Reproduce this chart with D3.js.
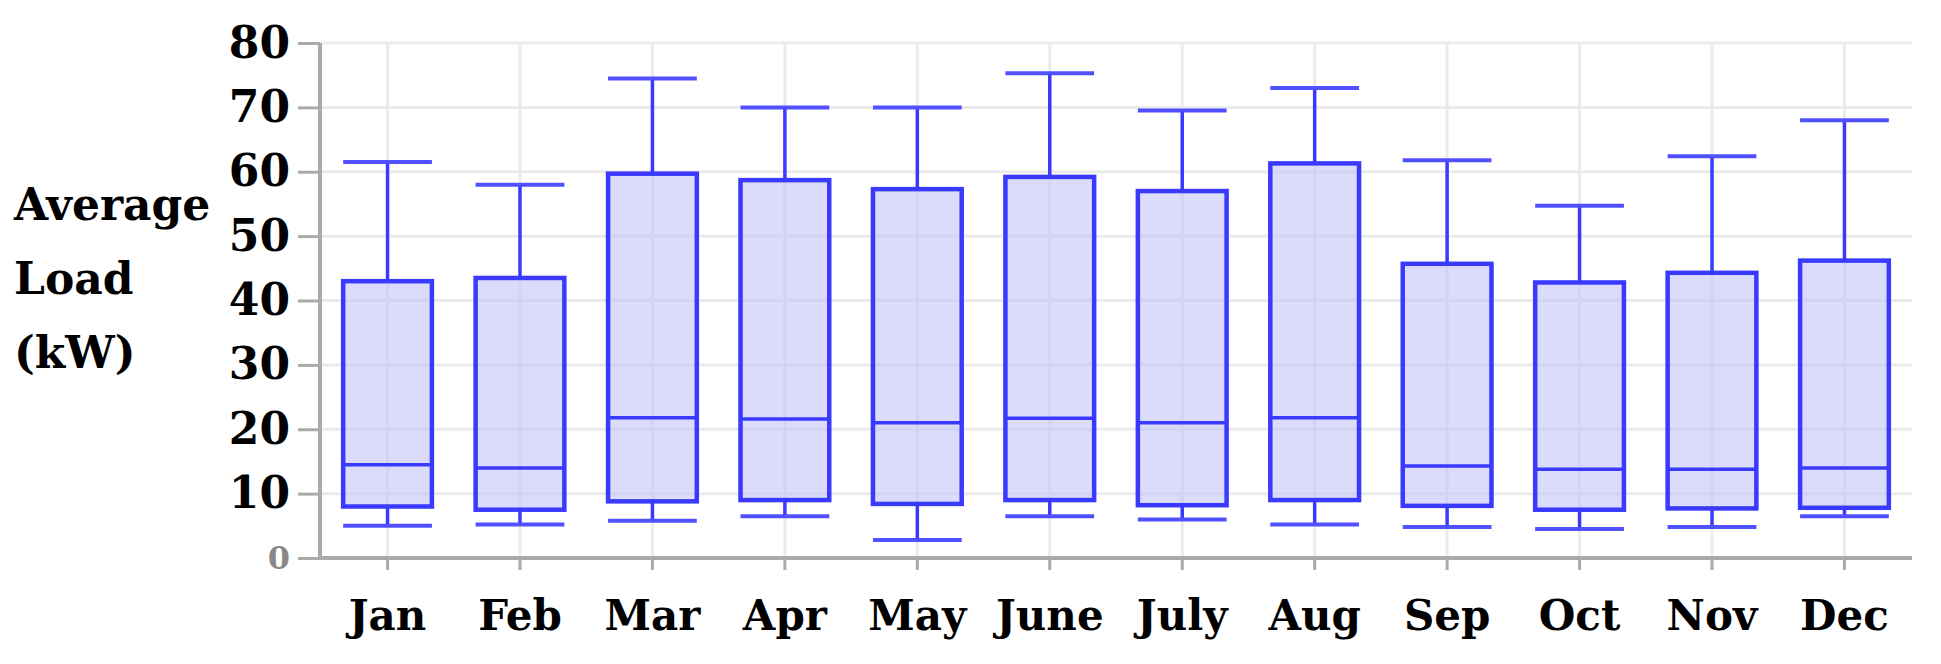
<!DOCTYPE html>
<html><head><meta charset="utf-8">
<script src="https://cdn.jsdelivr.net/npm/d3@7"></script>
<style>body{margin:0;background:#fff}</style></head>
<body><svg id="c" width="1941" height="664"></svg>
<script>
const months = ["Jan","Feb","Mar","Apr","May","June","July","Aug","Sep","Oct","Nov","Dec"];
const minV = [5,5.2,5.8,6.5,2.8,6.5,6,5.2,4.8,4.5,4.8,6.5];
const q1V  = [8,7.5,8.8,9,8.4,9,8.2,9,8.1,7.5,7.7,7.8];
const medV = [14.5,14,21.8,21.6,21,21.7,21,21.8,14.3,13.8,13.8,14];
const q3V  = [43,43.5,59.7,58.7,57.3,59.2,57,61.3,45.7,42.8,44.3,46.2];
const maxV = [61.5,58,74.5,70,70,75.3,69.5,73,61.8,54.7,62.4,68];
const yTicks = [0,10,20,30,40,50,60,70,80];

const svg = d3.select("#c");
const L=320, R=1912, T=43, B=558;
const x = d3.scaleBand().domain(months).range([L, R]).paddingInner(0.33).paddingOuter(0.175);
const y = d3.scaleLinear().domain([0,80]).range([B,T]);
const font = "'DejaVu Serif', serif";

svg.append("g").selectAll("line").data(yTicks.slice(1)).join("line")
  .attr("x1",L).attr("x2",R).attr("y1",d=>y(d)).attr("y2",d=>y(d))
  .attr("stroke","#ebebeb").attr("stroke-width",3);
svg.append("g").selectAll("line").data(months).join("line")
  .attr("x1",d=>x(d)+x.bandwidth()/2).attr("x2",d=>x(d)+x.bandwidth()/2)
  .attr("y1",T).attr("y2",B).attr("stroke","#ebebeb").attr("stroke-width",3);

const g = svg.append("g").selectAll("g").data(months).join("g");
const cx = d=>x(d)+x.bandwidth()/2;
g.append("line").attr("x1",cx).attr("x2",cx)
  .attr("y1",(d,i)=>y(maxV[i])).attr("y2",(d,i)=>y(q3V[i]))
  .attr("stroke","#3a3aff").attr("stroke-width",3.5);
g.append("line").attr("x1",cx).attr("x2",cx)
  .attr("y1",(d,i)=>y(minV[i])).attr("y2",(d,i)=>y(q1V[i]))
  .attr("stroke","#3a3aff").attr("stroke-width",3.5);
g.append("rect").attr("x",d=>x(d)).attr("width",x.bandwidth())
  .attr("y",(d,i)=>y(q3V[i])).attr("height",(d,i)=>y(q1V[i])-y(q3V[i]))
  .attr("fill","rgba(190,190,250,0.55)").attr("stroke","#3a3aff").attr("stroke-width",4.5);
g.append("line").attr("x1",d=>x(d)).attr("x2",d=>x(d)+x.bandwidth())
  .attr("y1",(d,i)=>y(medV[i])).attr("y2",(d,i)=>y(medV[i]))
  .attr("stroke","#3a3aff").attr("stroke-width",3.5);
[maxV,minV].forEach(arr=>{
  g.append("line").attr("x1",d=>x(d)).attr("x2",d=>x(d)+x.bandwidth())
   .attr("y1",(d,i)=>y(arr[i])).attr("y2",(d,i)=>y(arr[i]))
   .attr("stroke","#5050ff").attr("stroke-width",4);
});

const ya = svg.append("g").attr("transform",`translate(${L},0)`)
  .call(d3.axisLeft(y).tickValues(yTicks).tickSize(22).tickPadding(8));
ya.select(".domain").attr("stroke","#aaa").attr("stroke-width",4).attr("d",`M0,${T}V${B}`);
ya.selectAll(".tick line").attr("stroke","#aaa").attr("stroke-width",3);
ya.selectAll(".tick text").attr("font-family",font).attr("font-weight","bold")
  .attr("font-size",44).attr("fill","#000")
  .filter(d=>d===0).attr("fill","#888").attr("font-size",32);

const xa = svg.append("g").attr("transform",`translate(0,${B})`)
  .call(d3.axisBottom(x).tickSize(12).tickPadding(30));
xa.select(".domain").attr("stroke","#aaa").attr("stroke-width",4).attr("d",`M${L},0H${R}`);
xa.selectAll(".tick line").attr("stroke","#aaa").attr("stroke-width",3);
xa.selectAll(".tick text").attr("font-family",font).attr("font-weight","bold")
  .attr("font-size",42).attr("fill","#000");

svg.append("text").attr("font-family",font).attr("font-weight","bold").attr("font-size",44)
  .selectAll("tspan").data(["Average","Load","(kW)"]).join("tspan")
  .attr("x",14).attr("y",(d,i)=>220+i*74).text(d=>d);
</script></body></html>
